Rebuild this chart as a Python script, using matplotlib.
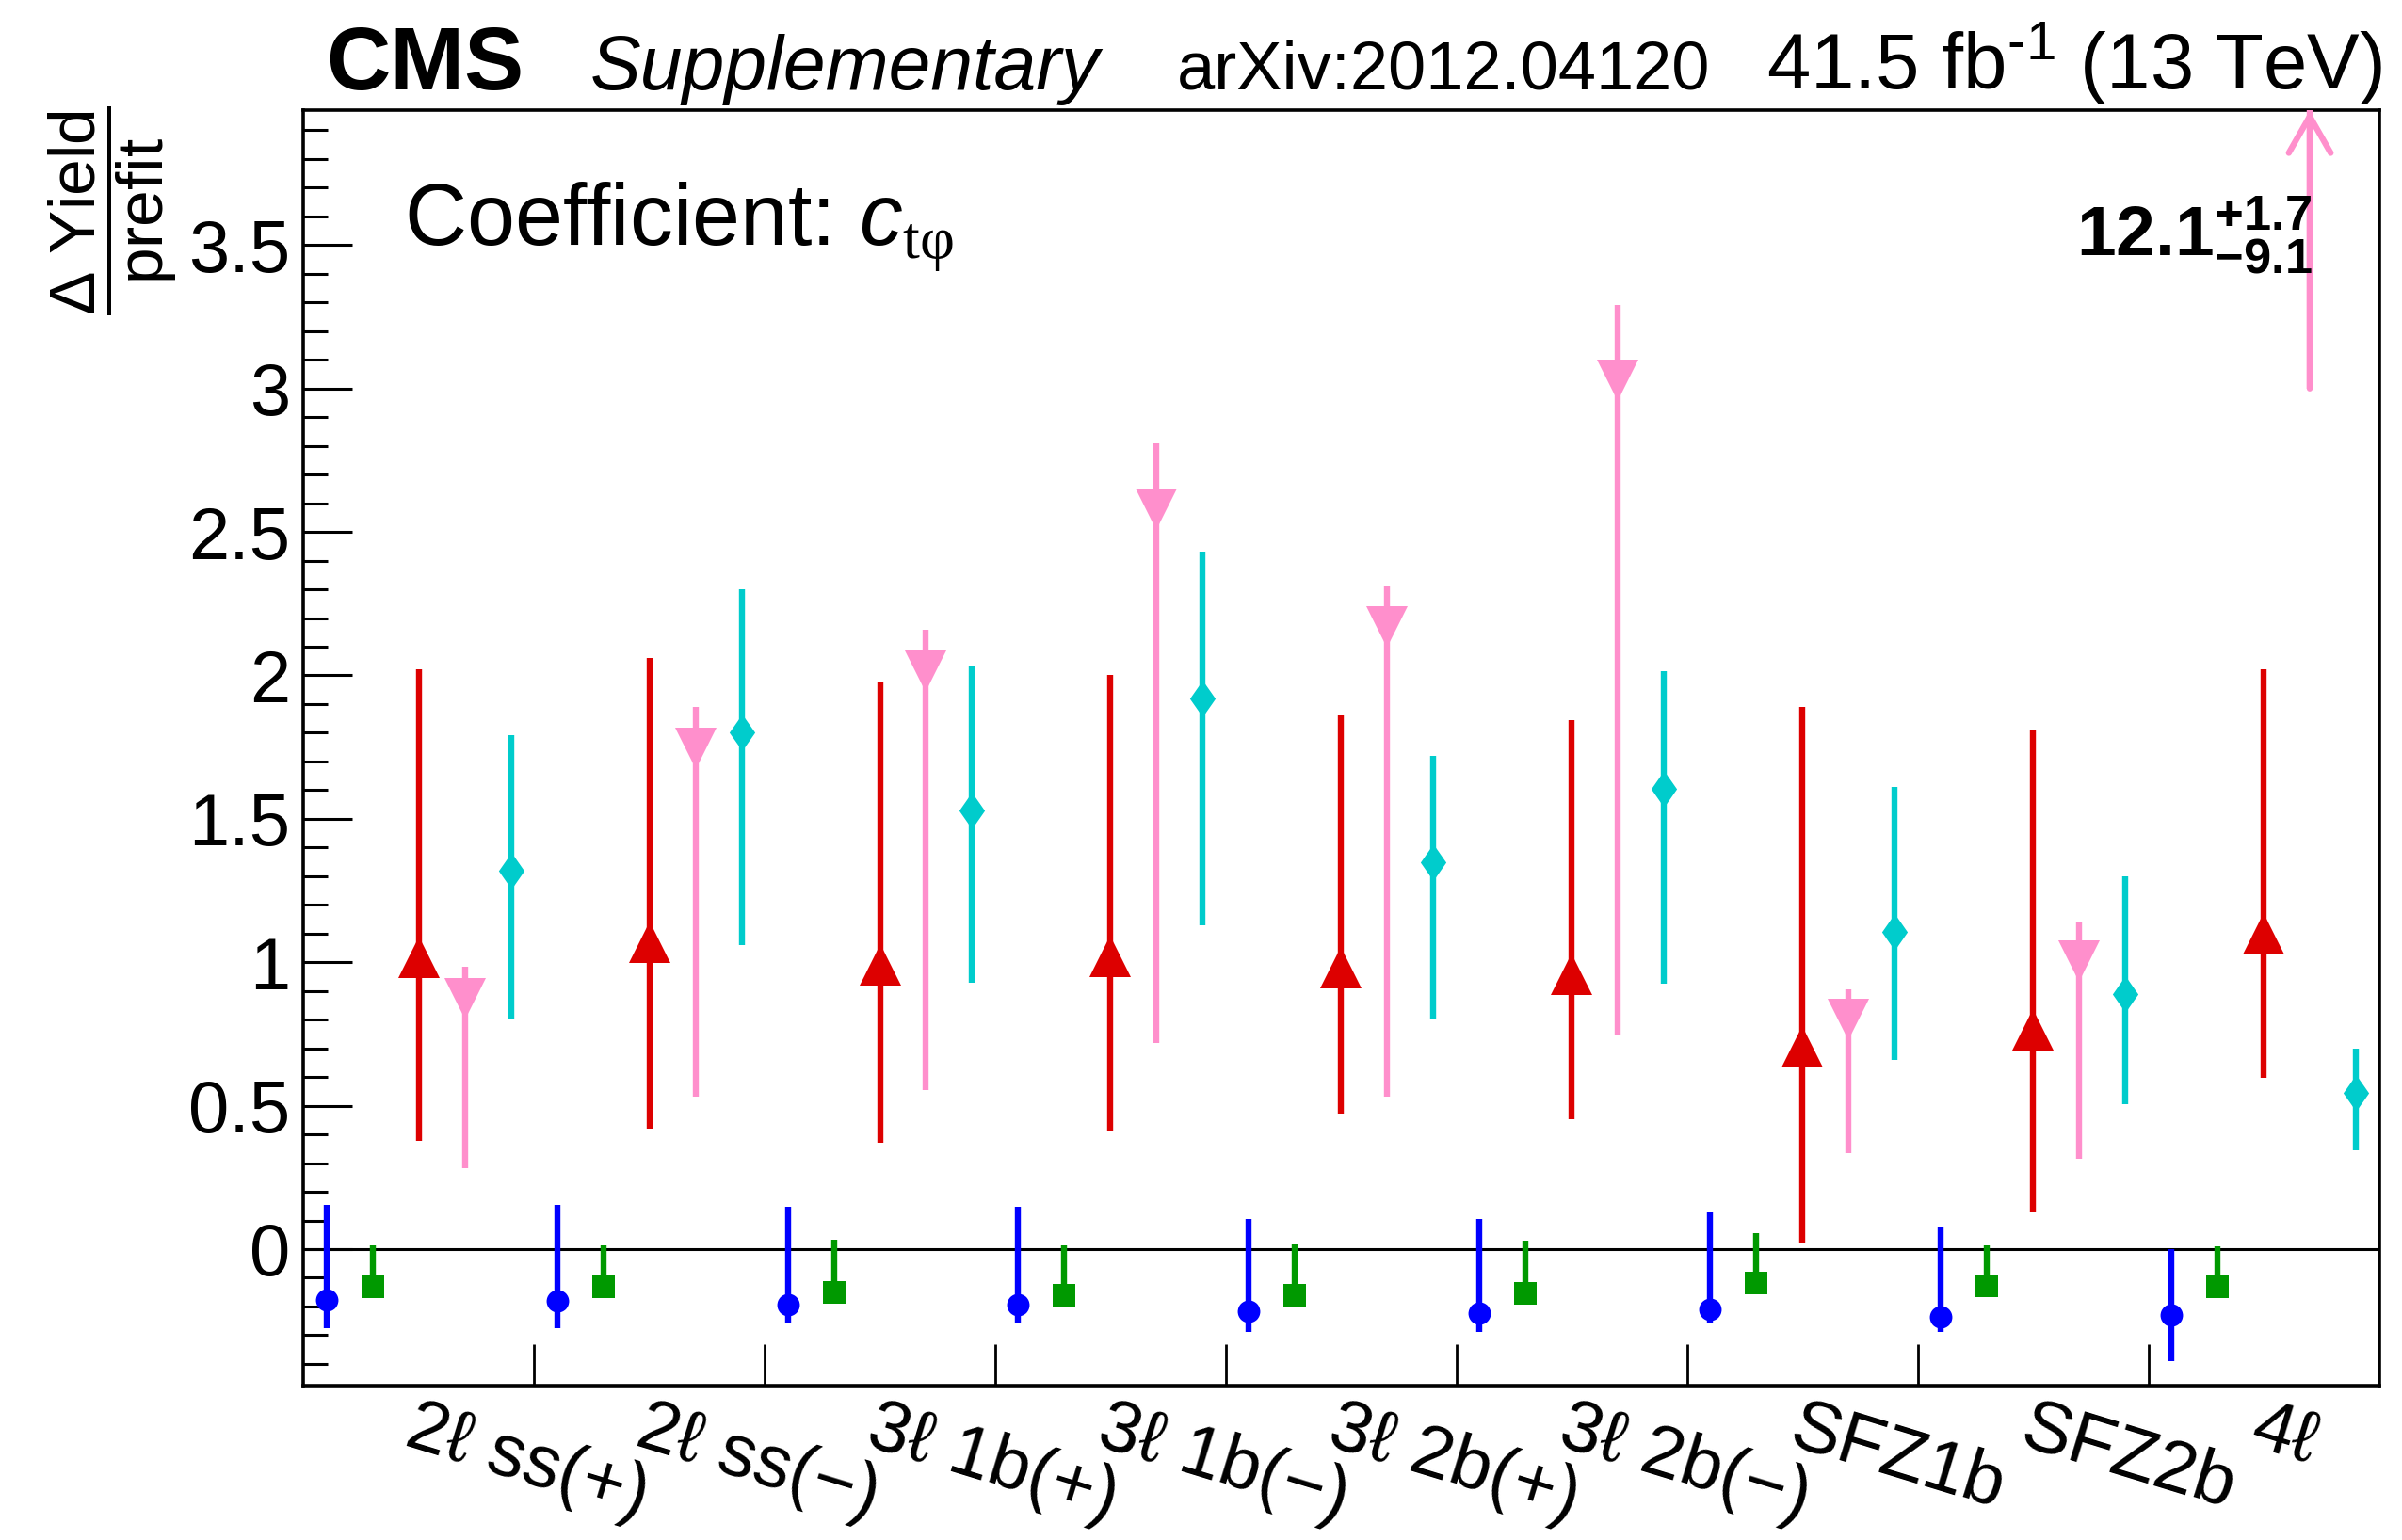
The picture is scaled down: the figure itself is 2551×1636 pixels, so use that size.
import matplotlib.pyplot as plt
import numpy as np
from matplotlib.path import Path
from matplotlib.ticker import MultipleLocator

plt.rcParams['font.family'] = ['Liberation Sans', 'DejaVu Sans']
plt.rcParams['mathtext.fontset'] = 'custom'
plt.rcParams['mathtext.rm'] = 'Liberation Serif'
plt.rcParams['mathtext.it'] = 'Liberation Sans:italic'
plt.rcParams['mathtext.bf'] = 'Liberation Sans:bold'
plt.rcParams['mathtext.sf'] = 'Liberation Sans'

# signal regions
regions = ['2ℓ ss(+)', '2ℓ ss(−)', '3ℓ 1b(+)', '3ℓ 1b(−)', '3ℓ 2b(+)',
           '3ℓ 2b(−)', 'SFZ1b', 'SFZ2b', '4ℓ']

ytick_vals = [0, 0.5, 1, 1.5, 2, 2.5, 3, 3.5]
ytick_labels = ['0', '0.5', '1', '1.5', '2', '2.5', '3', '3.5']

# yield shift per process: central value, upper and lower edge of the band
blue_val = [-0.177, -0.180, -0.193, -0.193, -0.216, -0.223, -0.210, -0.236, -0.230]
blue_hi = [0.154, 0.154, 0.148, 0.148, 0.106, 0.106, 0.128, 0.075, 0.0]
blue_lo = [-0.275, -0.275, -0.255, -0.255, -0.29, -0.29, -0.26, -0.29, -0.39]

green_val = [-0.131, -0.131, -0.151, -0.160, -0.160, -0.154, -0.118, -0.128, -0.130]
green_hi = [0.013, 0.013, 0.033, 0.013, 0.016, 0.030, 0.056, 0.013, 0.010]
green_lo = [-0.150, -0.150, -0.170, -0.180, -0.180, -0.174, -0.138, -0.148, -0.150]

red_val = [1.016, 1.07, 0.99, 1.02, 0.98, 0.957, 0.707, 0.766, 1.10]
red_hi = [2.02, 2.06, 1.98, 2.00, 1.86, 1.845, 1.89, 1.81, 2.02]
red_lo = [0.378, 0.42, 0.372, 0.415, 0.473, 0.452, 0.024, 0.128, 0.596]

pink_val = [0.872, 1.745, 2.016, 2.58, 2.17, 3.03, 0.80, 1.005, 12.1]
pink_hi = [0.984, 1.89, 2.16, 2.81, 2.31, 3.29, 0.905, 1.14, 13.8]
pink_lo = [0.282, 0.53, 0.553, 0.72, 0.53, 0.745, 0.335, 0.314, 3.0]

cyan_val = [1.319, 1.80, 1.53, 1.92, 1.35, 1.606, 1.106, 0.888, 0.544]
cyan_hi = [1.79, 2.30, 2.03, 2.43, 1.72, 2.016, 1.61, 1.30, 0.70]
cyan_lo = [0.80, 1.06, 0.93, 1.13, 0.80, 0.926, 0.66, 0.505, 0.344]

diamond = Path([(0, 1), (0.7, 0), (0, -1), (-0.7, 0), (0, 1)],
               [Path.MOVETO, Path.LINETO, Path.LINETO, Path.LINETO, Path.CLOSEPOLY])

series = [
    (blue_val, blue_hi, blue_lo, '#0000ff', 'o', 8.6, 0.1),
    (green_val, green_hi, green_lo, '#009900', 's', 8.4, 0.3),
    (red_val, red_hi, red_lo, '#dd0000', '^', 15.5, 0.5),
    (pink_val, pink_hi, pink_lo, '#ff8fcc', 'v', 15.5, 0.7),
    (cyan_val, cyan_hi, cyan_lo, '#00cccc', diamond, 14.0, 0.9),
]

ylo, yhi = -0.475, 3.97

fig = plt.figure(figsize=(12.755, 8.18), dpi=200)
ax = fig.add_axes([0.1263, 0.1004, 0.8641, 0.828])

ax.axhline(0, color='black', lw=1.1, zorder=1.5)

bins = np.arange(len(regions))
for val, hi, lo, col, mk, ms, off in series:
    val = np.array(val)
    err = [val - np.array(lo), np.array(hi) - val]
    ax.errorbar(bins + off, val, yerr=err, marker=mk, linestyle='none',
                color=col, ms=ms, mew=0, elinewidth=2.3, capsize=0, zorder=3)

# last pink point is off scale: arrow plus its value
pv, ph, pl = pink_val[-1], pink_hi[-1], pink_lo[-1]
ax.annotate('', xy=(8.7, yhi), xytext=(8.7, pl),
            arrowprops=dict(arrowstyle='->,head_length=0.7,head_width=0.4',
                            color='#ff8fcc', lw=2.3, shrinkA=0, shrinkB=0,
                            mutation_scale=20),
            annotation_clip=False, zorder=3)
ax.text(0.9628, 0.8337,
        r'$\mathbf{%.1f}^{\mathbf{+%.1f}}_{\mathbf{-%.1f}}$' % (pv, ph - pv, pv - pl),
        transform=fig.transFigure, ha='right', va='baseline', fontsize=27)

ax.set_xlim(0, len(regions))
ax.set_ylim(ylo, yhi)

ax.set_xticks(bins + 0.5, labels=regions)
ax.set_xticks(np.arange(1, len(regions)), minor=True)
ax.tick_params(axis='x', which='major', length=0, pad=3)
ax.tick_params(axis='x', which='minor', length=15.8, width=1.0, direction='in')
for lbl in ax.get_xticklabels():
    lbl.set(rotation=-17, ha='left', va='top', rotation_mode='anchor', fontsize=28)

ax.set_yticks(ytick_vals, labels=ytick_labels)
ax.yaxis.set_minor_locator(MultipleLocator(0.1))
ax.tick_params(axis='y', which='major', length=18.7, width=1.1, direction='in',
               pad=5, labelsize=28)
ax.tick_params(axis='y', which='minor', length=9.4, width=1.1, direction='in')

for sp in ax.spines.values():
    sp.set_linewidth(1.3)

ax.text(0.168, 0.840, r'Coefficient: $c_{\mathrm{tφ}}$', transform=fig.transFigure,
        ha='left', va='baseline', fontsize=33)

fig.text(0.047, 0.931, r'$\dfrac{\mathsf{Δ\ Yield}}{\mathsf{prefit}}$',
         rotation=90, ha='center', va='top', fontsize=25)

fig.text(0.1357, 0.942, 'CMS', fontsize=34, fontweight='bold', ha='left', va='baseline')
fig.text(0.2455, 0.942, 'Supplementary', fontsize=29, fontstyle='italic',
         ha='left', va='baseline')
fig.text(0.4898, 0.942, 'arXiv:2012.04120', fontsize=26, ha='left', va='baseline')
fig.text(0.9917, 0.942, r'41.5 fb$^{\mathsf{‐1}}$ (13 TeV)', fontsize=30,
         ha='right', va='baseline')

fig.savefig('out.png', dpi=200)
